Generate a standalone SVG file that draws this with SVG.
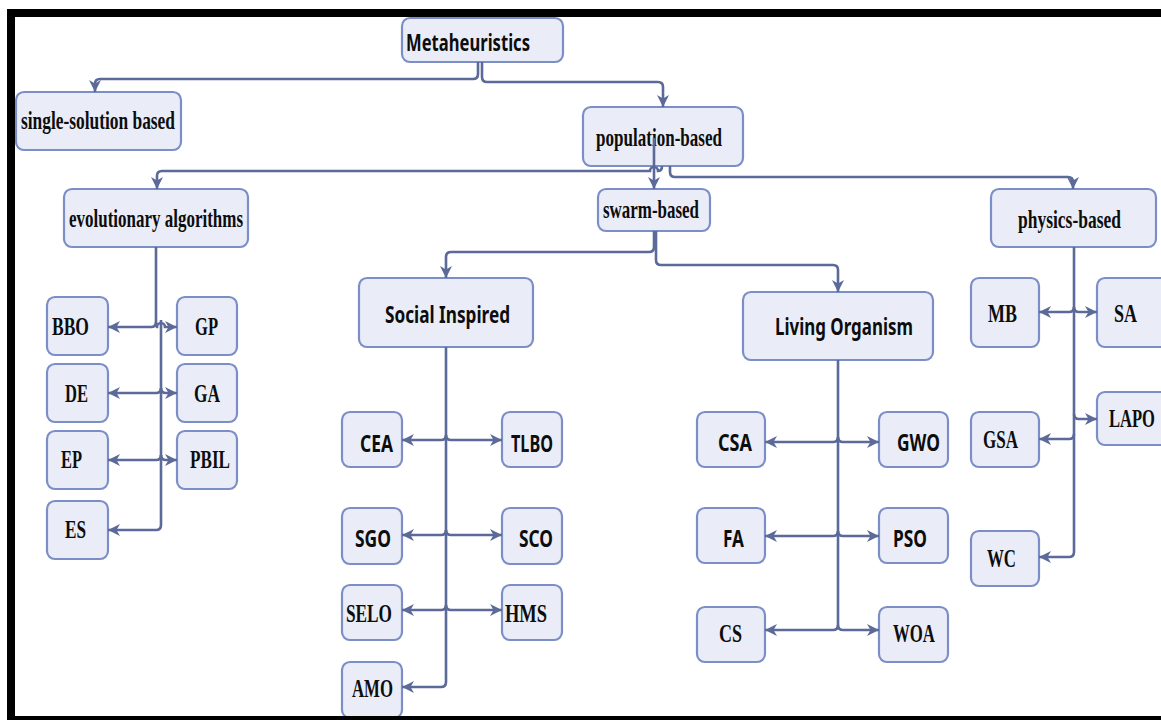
<svg xmlns="http://www.w3.org/2000/svg" width="1161" height="720" viewBox="0 0 1161 720">
<style>
.n rect{fill:#eaedf8;stroke:#7b8ec6;stroke-width:2.2}
.s{font-family:"Liberation Serif","Times New Roman",serif;font-weight:bold;font-size:25px;fill:#0d0d0d}
.a{font-family:"Noto Sans","Open Sans",sans-serif;font-weight:bold;font-size:23.5px;fill:#0d0d0d}
#conn path{fill:none;stroke:#5b6a98;stroke-width:2.6}
</style>
<defs>
<marker id="ah" markerUnits="userSpaceOnUse" markerWidth="13" markerHeight="13" refX="12" refY="6.5" orient="auto">
<path d="M0,0.5 L12,6.5 L0,12.5 L3.5,6.5 z" fill="#5b6a98"/>
</marker>
</defs>
<rect width="1161" height="720" fill="#ffffff"/>

<g id="n-meta" class="n"><rect x="402" y="18" width="161" height="44" rx="8"/><text class="a" x="406" y="51" textLength="124" lengthAdjust="spacingAndGlyphs">Metaheuristics</text></g>
<g id="n-single" class="n"><rect x="16" y="92" width="165" height="58" rx="8"/><text class="s" x="21" y="129" textLength="154" lengthAdjust="spacingAndGlyphs">single-solution based</text></g>
<g id="n-pop" class="n"><rect x="583" y="107" width="160" height="59" rx="8"/><text class="s" x="596" y="146" textLength="126" lengthAdjust="spacingAndGlyphs">population-based</text></g>
<g id="n-evo" class="n"><rect x="64" y="189" width="184" height="58" rx="8"/><text class="s" x="69" y="227" textLength="174" lengthAdjust="spacingAndGlyphs">evolutionary algorithms</text></g>
<g id="n-swarm" class="n"><rect x="598" y="189" width="112" height="42" rx="8"/><text class="s" x="603" y="218" textLength="96" lengthAdjust="spacingAndGlyphs">swarm-based</text></g>
<g id="n-phys" class="n"><rect x="991" y="189" width="165" height="58" rx="8"/><text class="s" x="1018" y="228" textLength="103" lengthAdjust="spacingAndGlyphs">physics-based</text></g>
<g id="n-social" class="n"><rect x="359" y="278" width="174" height="69" rx="8"/><text class="a" x="385" y="323" textLength="125" lengthAdjust="spacingAndGlyphs">Social Inspired</text></g>
<g id="n-living" class="n"><rect x="743" y="292" width="190" height="68" rx="8"/><text class="a" x="775" y="335" textLength="138" lengthAdjust="spacingAndGlyphs">Living Organism</text></g>

<g id="n-bbo" class="n"><rect x="47" y="297" width="61" height="58" rx="8"/><text class="s" x="52" y="335" textLength="37" lengthAdjust="spacingAndGlyphs">BBO</text></g>
<g id="n-gp" class="n"><rect x="177" y="297" width="60" height="58" rx="8"/><text class="s" x="195" y="335" textLength="23" lengthAdjust="spacingAndGlyphs">GP</text></g>
<g id="n-de" class="n"><rect x="47" y="364" width="61" height="58" rx="8"/><text class="s" x="65" y="402" textLength="23" lengthAdjust="spacingAndGlyphs">DE</text></g>
<g id="n-ga" class="n"><rect x="177" y="364" width="60" height="58" rx="8"/><text class="s" x="194" y="402" textLength="26" lengthAdjust="spacingAndGlyphs">GA</text></g>
<g id="n-ep" class="n"><rect x="47" y="431" width="61" height="58" rx="8"/><text class="s" x="61" y="468" textLength="21" lengthAdjust="spacingAndGlyphs">EP</text></g>
<g id="n-pbil" class="n"><rect x="177" y="431" width="60" height="58" rx="8"/><text class="s" x="190" y="468" textLength="40" lengthAdjust="spacingAndGlyphs">PBIL</text></g>
<g id="n-es" class="n"><rect x="47" y="501" width="61" height="58" rx="8"/><text class="s" x="65" y="538" textLength="21" lengthAdjust="spacingAndGlyphs">ES</text></g>

<g id="n-cea" class="n"><rect x="342" y="412" width="60" height="55" rx="8"/><text class="a" x="360" y="452" textLength="33" lengthAdjust="spacingAndGlyphs">CEA</text></g>
<g id="n-tlbo" class="n"><rect x="502" y="412" width="60" height="55" rx="8"/><text class="a" x="511" y="452" textLength="42" lengthAdjust="spacingAndGlyphs">TLBO</text></g>
<g id="n-sgo" class="n"><rect x="342" y="508" width="60" height="56" rx="8"/><text class="a" x="355" y="547" textLength="36" lengthAdjust="spacingAndGlyphs">SGO</text></g>
<g id="n-sco" class="n"><rect x="502" y="508" width="60" height="56" rx="8"/><text class="a" x="519" y="547" textLength="34" lengthAdjust="spacingAndGlyphs">SCO</text></g>
<g id="n-selo" class="n"><rect x="342" y="585" width="60" height="55" rx="8"/><text class="s" x="346" y="622" textLength="46" lengthAdjust="spacingAndGlyphs">SELO</text></g>
<g id="n-hms" class="n"><rect x="502" y="585" width="60" height="55" rx="8"/><text class="s" x="505" y="622" textLength="42" lengthAdjust="spacingAndGlyphs">HMS</text></g>
<g id="n-amo" class="n"><rect x="342" y="662" width="60" height="56" rx="8"/><text class="s" x="352" y="697" textLength="41" lengthAdjust="spacingAndGlyphs">AMO</text></g>

<g id="n-csa" class="n"><rect x="697" y="412" width="68" height="55" rx="8"/><text class="a" x="718" y="451" textLength="34" lengthAdjust="spacingAndGlyphs">CSA</text></g>
<g id="n-gwo" class="n"><rect x="879" y="412" width="69" height="55" rx="8"/><text class="a" x="897" y="451" textLength="43" lengthAdjust="spacingAndGlyphs">GWO</text></g>
<g id="n-fa" class="n"><rect x="697" y="508" width="68" height="55" rx="8"/><text class="a" x="723" y="547" textLength="21" lengthAdjust="spacingAndGlyphs">FA</text></g>
<g id="n-pso" class="n"><rect x="879" y="508" width="69" height="55" rx="8"/><text class="a" x="893" y="547" textLength="34" lengthAdjust="spacingAndGlyphs">PSO</text></g>
<g id="n-cs" class="n"><rect x="697" y="607" width="68" height="55" rx="8"/><text class="s" x="719" y="642" textLength="23" lengthAdjust="spacingAndGlyphs">CS</text></g>
<g id="n-woa" class="n"><rect x="879" y="607" width="69" height="55" rx="8"/><text class="s" x="893" y="642" textLength="42" lengthAdjust="spacingAndGlyphs">WOA</text></g>

<g id="n-mb" class="n"><rect x="971" y="278" width="68" height="69" rx="8"/><text class="s" x="988" y="322" textLength="29" lengthAdjust="spacingAndGlyphs">MB</text></g>
<g id="n-sa" class="n"><rect x="1097" y="278" width="72" height="69" rx="8"/><text class="s" x="1114" y="322" textLength="23" lengthAdjust="spacingAndGlyphs">SA</text></g>
<g id="n-gsa" class="n"><rect x="971" y="412" width="68" height="55" rx="8"/><text class="s" x="983" y="448" textLength="35" lengthAdjust="spacingAndGlyphs">GSA</text></g>
<g id="n-lapo" class="n"><rect x="1097" y="392" width="72" height="53" rx="8"/><text class="s" x="1109" y="427" textLength="46" lengthAdjust="spacingAndGlyphs">LAPO</text></g>
<g id="n-wc" class="n"><rect x="971" y="531" width="68" height="55" rx="8"/><text class="s" x="987" y="567" textLength="29" lengthAdjust="spacingAndGlyphs">WC</text></g>

<g id="conn">
<path d="M478,62 V74 Q478,79 473,79 H100 Q95,79 95,84 V92" marker-end="url(#ah)"/>
<path d="M482,62 V77 Q482,82 487,82 H658 Q663,82 663,87 V107" marker-end="url(#ah)"/>
<path d="M654,138 V189" marker-end="url(#ah)"/>
<path d="M662,166 Q662,171 658,171 A4,4 0 0 0 650,171 H162 Q157,171 157,176 V189" marker-end="url(#ah)"/>
<path d="M670,166 V172 Q670,177 675,177 H1068 Q1073,177 1073,182 V189" marker-end="url(#ah)"/>
<path d="M654,231 V247 Q654,252 649,252 H451 Q446,252 446,257 V278" marker-end="url(#ah)"/>
<path d="M656,231 V260 Q656,265 661,265 H833 Q838,265 838,270 V292" marker-end="url(#ah)"/>

<path d="M156,247 V322 Q156,327 151,327 H108" marker-end="url(#ah)"/>
<path d="M156,322 Q156,327 157,327 A4,4 0 0 1 165,327 H177" marker-end="url(#ah)"/>
<path d="M161,320 V525 Q161,530 156,530 H108" marker-end="url(#ah)"/>
<path d="M161,388 Q161,393 156,393 H108" marker-end="url(#ah)"/>
<path d="M161,388 Q161,393 166,393 H177" marker-end="url(#ah)"/>
<path d="M161,455 Q161,460 156,460 H108" marker-end="url(#ah)"/>
<path d="M161,455 Q161,460 166,460 H177" marker-end="url(#ah)"/>

<path d="M446,347 V682 Q446,687 441,687 H402" marker-end="url(#ah)"/>
<path d="M446,435 Q446,440 441,440 H402" marker-end="url(#ah)"/>
<path d="M446,435 Q446,440 451,440 H502" marker-end="url(#ah)"/>
<path d="M446,530 Q446,535 441,535 H402" marker-end="url(#ah)"/>
<path d="M446,530 Q446,535 451,535 H502" marker-end="url(#ah)"/>
<path d="M446,605 Q446,610 441,610 H402" marker-end="url(#ah)"/>
<path d="M446,605 Q446,610 451,610 H502" marker-end="url(#ah)"/>

<path d="M838,360 V625 Q838,630 833,630 H765" marker-end="url(#ah)"/>
<path d="M838,625 Q838,630 843,630 H879" marker-end="url(#ah)"/>
<path d="M838,437 Q838,442 833,442 H765" marker-end="url(#ah)"/>
<path d="M838,437 Q838,442 843,442 H879" marker-end="url(#ah)"/>
<path d="M838,531 Q838,536 833,536 H765" marker-end="url(#ah)"/>
<path d="M838,531 Q838,536 843,536 H879" marker-end="url(#ah)"/>

<path d="M1074,247 V552 Q1074,557 1069,557 H1039" marker-end="url(#ah)"/>
<path d="M1074,307 Q1074,312 1069,312 H1039" marker-end="url(#ah)"/>
<path d="M1074,307 Q1074,312 1079,312 H1097" marker-end="url(#ah)"/>
<path d="M1074,414 Q1074,419 1079,419 H1097" marker-end="url(#ah)"/>
<path d="M1074,434 Q1074,439 1069,439 H1039" marker-end="url(#ah)"/>
</g>

<rect x="11" y="13" width="1160" height="707" fill="none" stroke="#000" stroke-width="8"/>
</svg>
